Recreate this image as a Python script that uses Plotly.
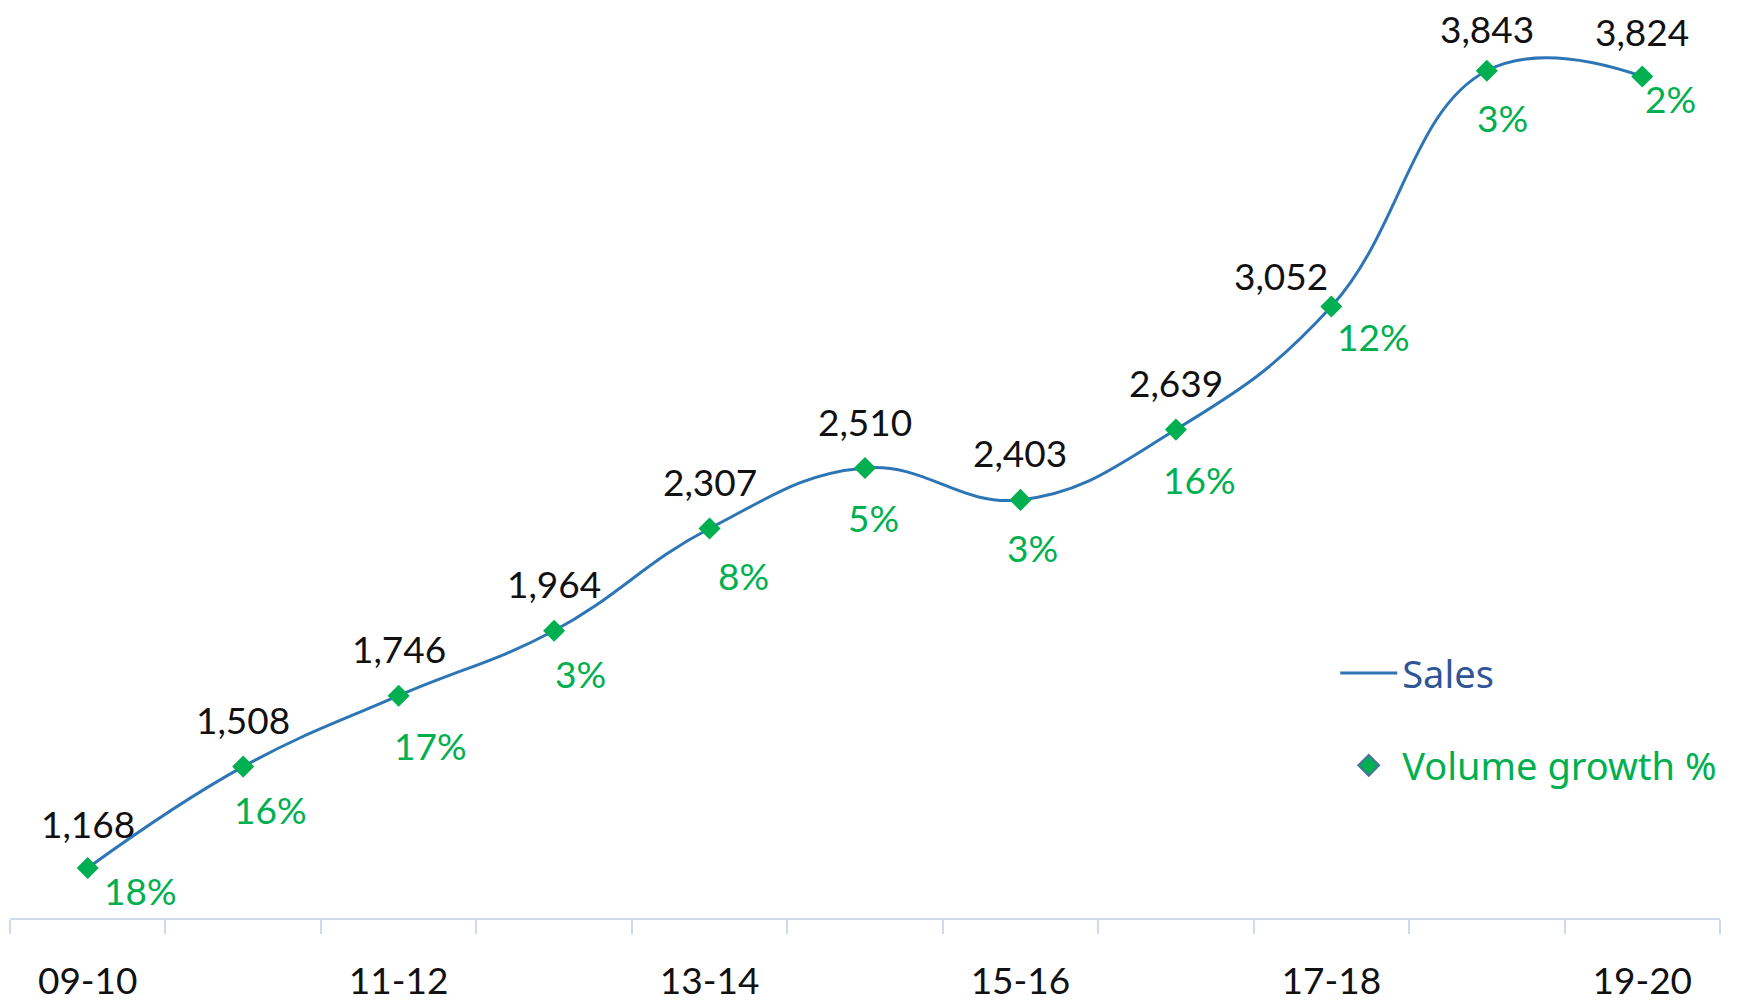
import plotly.graph_objects as go

categories = ["09-10", "10-11", "11-12", "12-13", "13-14", "14-15",
              "15-16", "16-17", "17-18", "18-19", "19-20"]
sales = [1168, 1508, 1746, 1964, 2307, 2510, 2403, 2639, 3052, 3843, 3824]
volume_growth = [18, 16, 17, 3, 8, 5, 3, 16, 12, 3, 2]
tick_labels = ["09-10", "", "11-12", "", "13-14", "", "15-16", "", "17-18", "", "19-20"]

# label placement (pixel offsets), layout only
value_offsets = [(0, 44), (0, 47), (0, 47), (0, 47), (0, 47), (0, 47),
                 (0, 47), (0, 47), (-50, 31), (0, 42), (0, 45)]
pct_offsets = [(53, -23), (27, -43), (32, -50), (26, -43), (34, -47), (8, -49),
               (12, -48), (24, -50), (42, -30), (16, -47), (28, -22)]

FONT = "Lato"
LEG_FONT = "Noto Sans"
LINE_COL = "#2E75B6"
GREEN = "#00B050"
FS = 37

fig = go.Figure()
fig.add_trace(go.Scatter(
    x=categories, y=sales, mode="lines",
    line=dict(color=LINE_COL, width=3, shape="spline", smoothing=1.2),
    name="<span style='color:#2F5597'>Sales</span>",
    legendgroup="a", showlegend=True,
))
fig.add_trace(go.Scatter(
    x=categories, y=sales, mode="markers",
    marker=dict(symbol="diamond", size=17, color=GREEN, line=dict(width=0)),
    showlegend=False, hoverinfo="skip",
))
fig.add_trace(go.Scatter(
    x=[None], y=[None], mode="markers",
    marker=dict(symbol="diamond", size=22, color=GREEN, line=dict(width=2, color="#4A6FA5")),
    name="<span style='color:#00B050'>Volume growth %</span>",
    legendgroup="b", showlegend=True,
))

annotations = []
for i, (c, v, g) in enumerate(zip(categories, sales, volume_growth)):
    dx, dy = value_offsets[i]
    annotations.append(dict(x=c, y=v, xref="x", yref="y", text=f"{v:,}",
                            showarrow=False, xshift=dx, yshift=dy, borderpad=0,
                            font=dict(family=FONT, size=FS, color="#111111")))
    dx, dy = pct_offsets[i]
    annotations.append(dict(x=c, y=v, xref="x", yref="y", text=f"{g}%",
                            showarrow=False, xshift=dx, yshift=dy, borderpad=0,
                            font=dict(family=FONT, size=FS, color=GREEN)))

fig.update_layout(
    width=1743, height=1002,
    margin=dict(l=2, r=31, t=16, b=92),
    paper_bgcolor="white", plot_bgcolor="white",
    font=dict(family=FONT, size=FS, color="#111111"),
    annotations=annotations,
    showlegend=True,
    legend=dict(x=0.775, y=0.309, xanchor="left", yanchor="top",
                font=dict(family=LEG_FONT, size=38), traceorder="grouped",
                tracegroupgap=40, itemwidth=57, bgcolor="rgba(0,0,0,0)"),
    xaxis=dict(
        type="category", tickmode="array", tickvals=categories, ticktext=tick_labels,
        tickson="boundaries", ticks="outside", ticklen=14, tickwidth=1.5,
        tickcolor="#D0D9EC", showline=True, linecolor="#D0D9EC", linewidth=1.5,
        showgrid=False, zeroline=False, ticklabelstandoff=30,
        tickfont=dict(family=FONT, size=FS, color="#111111"),
        range=[-0.5, 10.5],
    ),
    yaxis=dict(range=[1000, 4000], visible=False, showgrid=False, zeroline=False),
)

fig.write_html("out.html")
